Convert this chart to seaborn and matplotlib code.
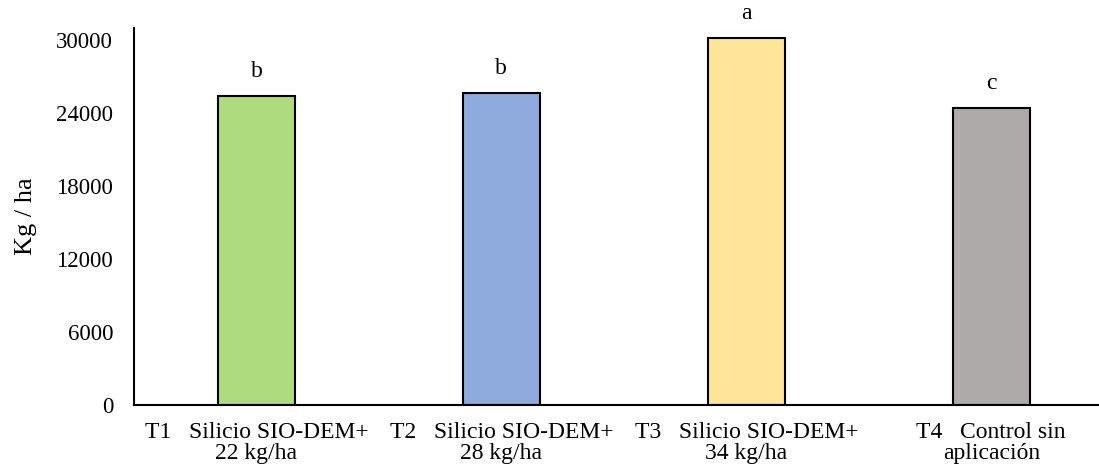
import pandas as pd
import matplotlib
matplotlib.use("Agg")
import matplotlib.pyplot as plt
import seaborn as sns

# datos
tratamientos = ["T1   Silicio SIO-DEM+\n22 kg/ha",
                "T2   Silicio SIO-DEM+\n28 kg/ha",
                "T3   Silicio SIO-DEM+\n34 kg/ha",
                "T4   Control sin\naplicación"]
rendimiento = [25400, 25650, 30150, 24400]
letras = ["b", "b", "a", "c"]
colores = ["#AEDB7E", "#8FAADC", "#FFE599", "#AEAAAA"]

df = pd.DataFrame({"trat": tratamientos, "kg": rendimiento})

sns.set_theme(style="white")
plt.rcParams["font.family"] = ["Liberation Serif", "DejaVu Serif"]

fig = plt.figure(figsize=(10.99, 4.68), dpi=100)
ax = fig.add_axes([134 / 1099, 63 / 468, (1099 - 134) / 1099, (405 - 28) / 468])

sns.barplot(data=df, x="trat", y="kg", hue="trat", palette=colores, legend=False,
            saturation=1, width=0.315, edgecolor="black", linewidth=1.5, ax=ax)

for i, (v, l) in enumerate(zip(rendimiento, letras)):
    ax.annotate(l, (i, v), xytext=(0, 18), textcoords="offset points",
                ha="center", va="center", fontsize=17, color="black")

ax.set_ylim(0, 31000)
ax.set_xlim(-0.5, 3.44)
ax.set_yticks([0, 6000, 12000, 18000, 24000, 30000])
ax.tick_params(axis="both", length=0, colors="black")
ax.tick_params(axis="y", labelsize=16.5, pad=15)
ax.tick_params(axis="x", labelsize=17, pad=12)
ax.set_xlabel("")
ax.set_ylabel("Kg / ha", fontsize=19, color="black")
ax.yaxis.set_label_coords(-97 / 965, 0.5)

for s in ["top", "right"]:
    ax.spines[s].set_visible(False)
for s in ["left", "bottom"]:
    ax.spines[s].set_color("black")
    ax.spines[s].set_linewidth(1.5)

for t in ax.get_xticklabels():
    t.set_linespacing(1.05)

fig.savefig("out.png", dpi=100)
